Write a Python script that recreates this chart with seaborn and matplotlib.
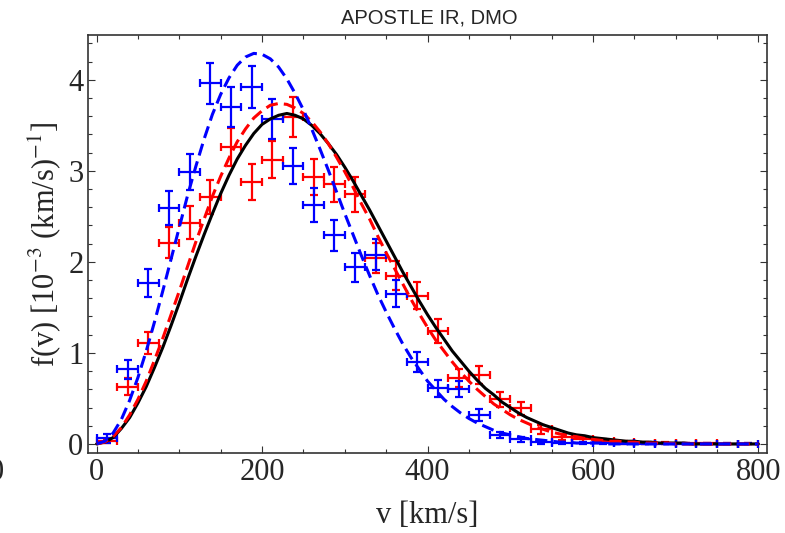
import numpy as np
import pandas as pd
import matplotlib
matplotlib.use("Agg")
import matplotlib.pyplot as plt
import seaborn as sns
from matplotlib.ticker import MultipleLocator

sns.set_theme(style="ticks")
plt.rcParams['font.family'] = ['Liberation Serif', 'DejaVu Serif']
plt.rcParams['mathtext.fontset'] = 'stix'

# Binned speed distributions (bin centres, km/s) with error bars
v_bins = [12.5, 37.5, 62.5, 87.5, 112.5, 137.5, 162.5, 187.5, 212.5, 237.5, 262.5, 287.5, 312.5, 337.5, 362.5, 387.5,
          412.5, 437.5, 462.5, 487.5, 512.5, 537.5, 562.5, 587.5, 612.5, 637.5, 662.5, 687.5, 712.5, 737.5, 762.5, 787.5]
v_halfwidth = 12.5
blue_f = [0.06, 0.82, 1.77, 2.59, 2.99, 3.96, 3.70, 3.92, 3.57, 3.05, 2.62, 2.29, 1.94, 2.08, 1.65, 0.90,
          0.61, 0.60, 0.32, 0.10, 0.05, 0.02, 0.01, 0.01, 0.005, 0.005, 0.0, 0.0, 0.0, 0.0, 0.0, 0.0]
blue_err = [0.05, 0.104, 0.153, 0.185, 0.199, 0.229, 0.221, 0.228, 0.217, 0.20, 0.186, 0.174, 0.16, 0.166, 0.148, 0.109,
            0.09, 0.089, 0.065, 0.036, 0.026, 0.016, 0.012, 0.012, 0.008, 0.008, 0.005, 0.005, 0.005, 0.005, 0.005, 0.005]
red_f = [0.03, 0.63, 1.11, 2.21, 2.43, 2.71, 3.26, 2.88, 3.12, 3.59, 2.93, 2.85, 2.74, 2.04, 1.85, 1.63,
         1.24, 0.72, 0.76, 0.49, 0.39, 0.16, 0.08, 0.05, 0.03, 0.02, 0.01, 0.01, 0.005, 0.005, 0.0, 0.0]
red_err = [0.02, 0.091, 0.121, 0.171, 0.179, 0.189, 0.208, 0.195, 0.203, 0.218, 0.197, 0.194, 0.19, 0.164, 0.156, 0.147,
           0.128, 0.098, 0.10, 0.08, 0.072, 0.046, 0.033, 0.026, 0.02, 0.016, 0.012, 0.012, 0.008, 0.008, 0.005, 0.005]

# Fitted curves, sampled every 10 km/s from 0 to 800
v_curve = list(range(0, 801, 10))
black_curve = [0.00, 0.02, 0.07, 0.17, 0.29, 0.45, 0.63, 0.84, 1.06, 1.30, 1.55, 1.81, 2.06, 2.30, 2.53, 2.75,
               2.95, 3.13, 3.28, 3.41, 3.51, 3.57, 3.61, 3.63, 3.61, 3.57, 3.50, 3.41, 3.30, 3.18, 3.04, 2.89,
               2.73, 2.57, 2.40, 2.23, 2.06, 1.89, 1.73, 1.57, 1.42, 1.28, 1.15, 1.02, 0.91, 0.80, 0.70, 0.61,
               0.54, 0.46, 0.40, 0.34, 0.29, 0.25, 0.21, 0.18, 0.15, 0.12, 0.10, 0.09, 0.07, 0.06, 0.05, 0.04,
               0.03, 0.03, 0.02, 0.02, 0.01, 0.01, 0.01, 0.01, 0.00, 0.00, 0.00, 0.00, 0.00, 0.00, 0.00, 0.00, 0.00]
red_curve = [0.00, 0.02, 0.08, 0.18, 0.32, 0.49, 0.69, 0.92, 1.16, 1.42, 1.68, 1.95, 2.22, 2.47, 2.72, 2.94,
             3.14, 3.32, 3.46, 3.58, 3.66, 3.72, 3.74, 3.73, 3.69, 3.63, 3.54, 3.43, 3.30, 3.15, 2.99, 2.82,
             2.64, 2.47, 2.28, 2.10, 1.93, 1.76, 1.59, 1.43, 1.28, 1.14, 1.02, 0.90, 0.79, 0.69, 0.60, 0.52,
             0.44, 0.38, 0.32, 0.27, 0.23, 0.19, 0.16, 0.13, 0.11, 0.09, 0.08, 0.06, 0.05, 0.04, 0.03, 0.03,
             0.02, 0.02, 0.01, 0.01, 0.01, 0.01, 0.00, 0.00, 0.00, 0.00, 0.00, 0.00, 0.00, 0.00, 0.00, 0.00, 0.00]
blue_curve = [0.00, 0.03, 0.12, 0.27, 0.48, 0.73, 1.02, 1.34, 1.68, 2.03, 2.38, 2.73, 3.05, 3.35, 3.62, 3.84,
              4.02, 4.16, 4.25, 4.29, 4.28, 4.23, 4.14, 4.01, 3.85, 3.67, 3.46, 3.24, 3.01, 2.77, 2.53, 2.30,
              2.07, 1.85, 1.64, 1.45, 1.27, 1.10, 0.95, 0.82, 0.69, 0.59, 0.49, 0.41, 0.34, 0.28, 0.23, 0.19,
              0.15, 0.12, 0.10, 0.08, 0.06, 0.05, 0.04, 0.03, 0.02, 0.02, 0.01, 0.01, 0.01, 0.01, 0.00, 0.00,
              0.00, 0.00, 0.00, 0.00, 0.00, 0.00, 0.00, 0.00, 0.00, 0.00, 0.00, 0.00, 0.00, 0.00, 0.00, 0.00, 0.00]

title = 'APOSTLE IR, DMO'
x_label = 'v [km/s]'
y_label = r'f(v) [10$^{-3}$ (km/s)$^{-1}$]'

curves = pd.DataFrame({'v': v_curve, 'black': black_curve, 'red': red_curve, 'blue': blue_curve})

fig = plt.figure(figsize=(7.85, 5.33), dpi=100)
ax = fig.add_axes([0.1125, 0.150, 0.8642, 0.784])

for f, e, c in [(red_f, red_err, 'red'), (blue_f, blue_err, 'blue')]:
    ax.errorbar(v_bins, f, xerr=v_halfwidth, yerr=e, fmt='none', ecolor=c,
                elinewidth=1.6, capsize=3, capthick=1.6)

sns.lineplot(data=curves, x='v', y='black', color='black', lw=2.2, ax=ax)
sns.lineplot(data=curves, x='v', y='red', color='red', lw=2.2, linestyle=(0, (4, 2)), ax=ax)
sns.lineplot(data=curves, x='v', y='blue', color='blue', lw=2.2, linestyle=(0, (4, 2)), ax=ax)

ax.set_xlim(-10, 810)
ax.set_ylim(-0.1, 4.49)
ax.xaxis.set_major_locator(MultipleLocator(200))
ax.xaxis.set_minor_locator(MultipleLocator(50))
ax.yaxis.set_major_locator(MultipleLocator(1))
ax.yaxis.set_minor_locator(MultipleLocator(0.2))
ax.tick_params(which='both', direction='in', top=True, right=True, labelsize=22, width=0.8, color='#333333')
ax.tick_params(which='major', length=5)
ax.tick_params(which='minor', length=3)
for s in ax.spines.values():
    s.set_linewidth(1.2)
    s.set_color('#333333')
ax.set_xlabel(x_label, fontsize=22, labelpad=10)
ax.set_ylabel(y_label, fontsize=22)
fig.text(0.547, 0.966, title, ha='center', va='center', fontsize=14.5,
         family=['Liberation Sans', 'DejaVu Sans'])
# clipped tick label of the neighbouring panel at the far left edge
fig.text(4 / 785, 1 - 472 / 533, '0', ha='right', va='center', fontsize=22)

fig.savefig('out.png', dpi=100)
